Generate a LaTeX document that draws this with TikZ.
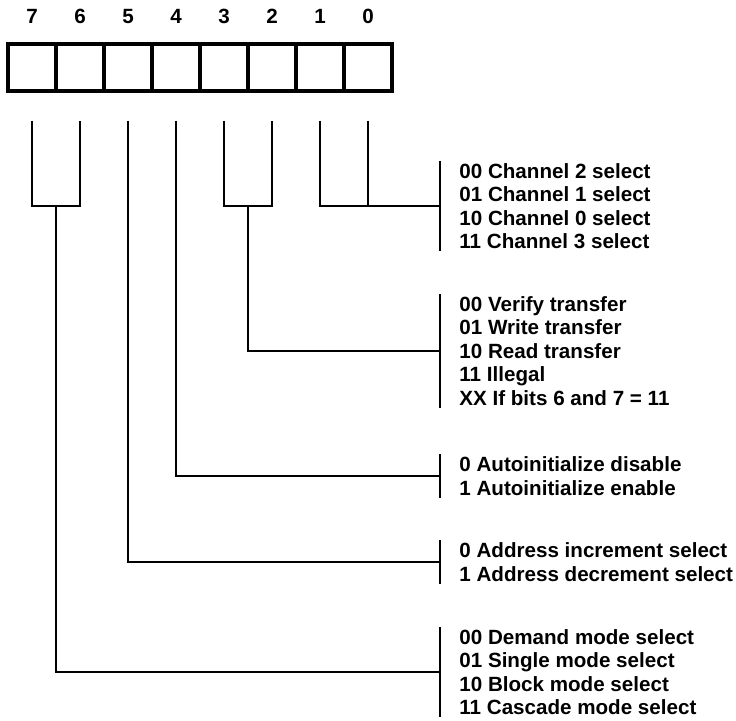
\documentclass[tikz,border=0pt]{standalone}
\usepackage{fontspec}
\setmainfont{Liberation Sans}
\usetikzlibrary{positioning,calc}

\tikzset{
  bitbox/.style={draw, line width=1.6pt, minimum width=24pt, minimum height=23.5pt, inner sep=0pt},
  bitlabel/.style={font=\fontsize{10.3}{11}\selectfont\bfseries, inner sep=0pt},
  lead/.style={line width=1.3pt},
  field/.style={anchor=west, align=left, inner xsep=9.5pt, inner ysep=1pt,
    font=\fontsize{10.3}{11.75}\selectfont\bfseries}
}

\begin{document}
\begin{tikzpicture}[x=0.5pt,y=-0.5pt]
\useasboundingbox (0,0) rectangle (736,721);

% --- register bits ---
\foreach \b in {0,...,7} {
  \node[bitbox] (b\b) at ({32+48*(7-\b)},67.5) {};
  \node[bitlabel, above=9pt of b\b] (n\b) {\b};
  \coordinate[below=14pt of b\b] (t\b);
}

% --- field descriptions ---
\node[field] (chan) at (440,206) {00 Channel 2 select\\01 Channel 1 select\\10 Channel 0 select\\11 Channel 3 select};
\node[field] (xfer) at (440,351) {00 Verify transfer\\01 Write transfer\\10 Read transfer\\11 Illegal\\XX If bits 6 and 7 = 11};
\node[field] (auto) at (440,476) {0 Autoinitialize disable\\1 Autoinitialize enable};
\node[field] (addr) at (440,562) {0 Address increment select\\1 Address decrement select};
\node[field] (mode) at (440,672) {00 Demand mode select\\01 Single mode select\\10 Block mode select\\11 Cascade mode select};

\foreach \f in {chan,xfer,auto,addr,mode}
  \draw[lead] (\f.north west) -- (\f.south west);

% --- leads ---
\draw[lead] (t1) |- (chan.west);
\draw[lead] (t0) -- (t0 |- chan.west);

\coordinate (u32) at ($(t3 |- chan.west)!0.5!(t2 |- chan.west)$);
\draw[lead] (t3) |- (u32) -| (t2);
\draw[lead] (u32) |- (xfer.west);

\draw[lead] (t4) |- (auto.west);
\draw[lead] (t5) |- (addr.west);

\coordinate (u76) at ($(t7 |- chan.west)!0.5!(t6 |- chan.west)$);
\draw[lead] (t7) |- (u76) -| (t6);
\draw[lead] (u76) |- (mode.west);

\end{tikzpicture}
\end{document}
